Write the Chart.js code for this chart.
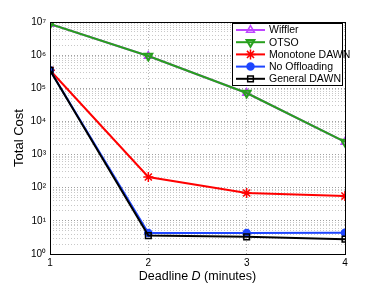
<!DOCTYPE html>
<html>
<head>
<meta charset="utf-8">
<script src="https://cdn.jsdelivr.net/npm/chart.js@4.4.0/dist/chart.umd.min.js"></script>
<style>
  html, body { margin: 0; padding: 0; background: #fff; }
  #wrap { width: 382px; height: 286px; }
</style>
</head>
<body>
<div id="wrap"><canvas id="costChart"></canvas></div>
<script>
// deadlines (minutes)
const deadlines = [1, 2, 3, 4];

// total cost per scheme
const wifflerCost   = [8.7e6, 9.4e5, 7.2e4, 2.4e3];
const otsoCost      = [8.7e6, 9.4e5, 7.2e4, 2.4e3];
const monotoneCost  = [3.5e5, 210, 69, 56];
const noOffloadCost = [3.5e5, 4.3, 4.3, 4.4];
const generalCost   = [3.5e5, 3.6, 3.3, 2.8];

// axis ticks
const yMajorTicks = [1, 10, 100, 1e3, 1e4, 1e5, 1e6, 1e7];
const yTickLabels = ['10\u2070', '10\u00b9', '10\u00b2', '10\u00b3', '10\u2074', '10\u2075', '10\u2076', '10\u2077'];
const xTicks = [1, 2, 3, 4];

const FONT = 'Liberation Sans, Arial, Helvetica, sans-serif';

function series(label, values, color, style, extra) {
    return Object.assign({
        label: label,
        data: deadlines.map((d, i) => ({x: d, y: values[i]})),
        borderColor: color,
        backgroundColor: color,
        pointBorderColor: color,
        pointBackgroundColor: 'rgba(0,0,0,0)',
        pointStyle: style,
        pointRadius: 4.5,
        pointBorderWidth: 1.5,
        borderWidth: 2,
        tension: 0
    }, extra || {});
}

const datasets = [
    series('Wiffler', wifflerCost, 'rgb(190,70,255)', 'triangle', {order: 4}),
    series('OTSO', otsoCost, 'rgb(40,160,30)', 'triangle', {order: 3, pointRotation: 180, pointBorderWidth: 2}),
    series('Monotone DAWN', monotoneCost, 'rgb(255,0,0)', 'star', {order: 2, pointBorderWidth: 1.5, pointRadius: 5}),
    series('No Offloading', noOffloadCost, 'rgb(30,70,255)', 'circle', {order: 1, pointBackgroundColor: 'rgb(30,70,255)', pointRadius: 3.5}),
    series('General DAWN', generalCost, 'rgb(0,0,0)', 'rect', {order: 0, pointRadius: 4})
];

// full box around the plot area
const boxPlugin = {
    id: 'box',
    afterDatasetsDraw(chart) {
        const a = chart.chartArea, ctx = chart.ctx;
        ctx.save();
        ctx.strokeStyle = '#000';
        ctx.lineWidth = 1;
        ctx.strokeRect(Math.round(a.left) + 0.5, Math.round(a.top) + 0.5,
            Math.round(a.right - a.left), Math.round(a.bottom - a.top));
        ctx.restore();
    }
};

// matlab style legend in the top right corner
const legendPlugin = {
    id: 'boxLegend',
    afterDraw(chart) {
        const ctx = chart.ctx;
        const a = chart.chartArea;
        const w = 110, rowH = 12.2, h = 62;
        const x0 = a.right - w - 3, y0 = a.top + 1;
        ctx.save();
        ctx.fillStyle = '#fff';
        ctx.fillRect(x0, y0, w, h);
        ctx.strokeStyle = '#000';
        ctx.lineWidth = 1;
        ctx.strokeRect(x0 + 0.5, y0 + 0.5, w, h);
        ctx.font = '10.5px ' + FONT;
        ctx.textBaseline = 'middle';
        chart.data.datasets.forEach((ds, i) => {
            const y = y0 + 7 + i * rowH;
            ctx.strokeStyle = ds.borderColor;
            ctx.lineWidth = 2;
            ctx.beginPath();
            ctx.moveTo(x0 + 4, y);
            ctx.lineTo(x0 + 33, y);
            ctx.stroke();
            ctx.fillStyle = ds.pointBackgroundColor;
            ctx.strokeStyle = ds.pointBorderColor;
            ctx.lineWidth = ds.pointBorderWidth;
            Chart.helpers.drawPoint(ctx, {
                pointStyle: ds.pointStyle,
                rotation: ds.pointRotation || 0,
                radius: ds.pointRadius,
                borderWidth: ds.pointBorderWidth
            }, x0 + 18.5, y);
            ctx.fillStyle = '#000';
            ctx.fillText(ds.label, x0 + 37, y + 0.5);
        });
        ctx.restore();
    }
};

// x axis title with italic D
const xTitlePlugin = {
    id: 'xTitle',
    afterDraw(chart) {
        const ctx = chart.ctx;
        const a = chart.chartArea;
        const parts = [['Deadline ', 'normal'], ['D', 'italic'], [' (minutes)', 'normal']];
        const size = 12.5;
        let total = 0;
        parts.forEach(p => { ctx.font = p[1] + ' ' + size + 'px ' + FONT; total += ctx.measureText(p[0]).width; });
        let x = (a.left + a.right) / 2 - total / 2;
        ctx.save();
        ctx.fillStyle = '#000';
        ctx.textBaseline = 'middle';
        parts.forEach(p => {
            ctx.font = p[1] + ' ' + size + 'px ' + FONT;
            ctx.fillText(p[0], x, 277);
            x += ctx.measureText(p[0]).width;
        });
        ctx.restore();
    }
};

document.addEventListener('DOMContentLoaded', function() {
    const ctx = document.getElementById('costChart').getContext('2d');
    window.costChart = new Chart(ctx, {
        type: 'line',
        data: { datasets: datasets },
        options: {
            responsive: true,
            maintainAspectRatio: false,
            animation: false,
            layout: { padding: { left: 12, right: 37, top: 22, bottom: 0 } },
            scales: {
                x: {
                    type: 'linear',
                    min: 1,
                    max: 4,
                    afterBuildTicks(scale) {
                        scale.ticks = xTicks.map(v => ({value: v}));
                    },
                    afterFit(scale) { scale.height = 32; },
                    ticks: {
                        color: '#000',
                        font: { family: FONT, size: 10 },
                        padding: 3,
                        maxRotation: 0
                    },
                    grid: { color: '#b4b4b4', lineWidth: 1, drawTicks: false },
                    border: { display: false, dash: [1, 2] }
                },
                y: {
                    type: 'logarithmic',
                    min: 1,
                    max: 1e7,
                    afterBuildTicks(scale) {
                        const t = [];
                        for (let k = 0; k < yMajorTicks.length; k++) {
                            const base = yMajorTicks[k];
                            t.push({value: base, major: true});
                            if (k < yMajorTicks.length - 1) {
                                for (let m = 2; m <= 9; m++) t.push({value: m * base});
                            }
                        }
                        scale.ticks = t;
                    },
                    afterFit(scale) { scale.width = 38; },
                    ticks: {
                        color: '#000',
                        font: { family: FONT, size: 10 },
                        padding: 4,
                        autoSkip: false,
                        callback: function(value) {
                            const i = yMajorTicks.indexOf(value);
                            return i >= 0 ? yTickLabels[i] : '';
                        }
                    },
                    title: {
                        display: true,
                        text: 'Total Cost',
                        color: '#000',
                        font: { family: FONT, size: 13 },
                        padding: { top: 0, bottom: 2 }
                    },
                    grid: {
                        color: c => (c.tick && c.tick.major) ? '#a0a0a0' : '#c8c8c8',
                        lineWidth: 1,
                        drawTicks: false
                    },
                    border: { display: false, dash: [1, 2] }
                }
            },
            plugins: {
                legend: { display: false },
                tooltip: { enabled: false }
            }
        },
        plugins: [boxPlugin, legendPlugin, xTitlePlugin]
    });
});
</script>
</body>
</html>
